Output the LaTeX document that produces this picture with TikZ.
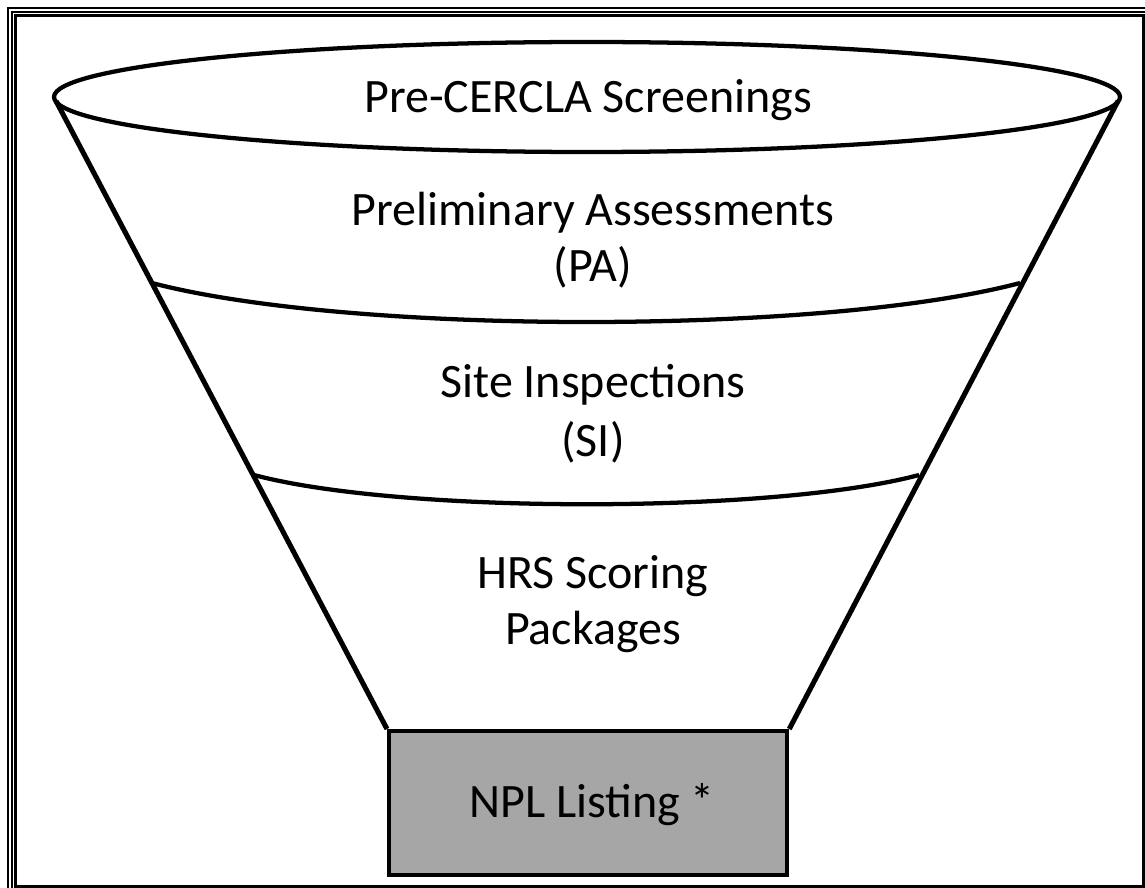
\documentclass[tikz,border=0pt]{standalone}
\usepackage{fontspec}
\setmainfont{Carlito}
\begin{document}
\begin{tikzpicture}[x=0.75pt,y=-0.75pt,
  frameline/.style={line width=1.6pt},
  funnelline/.style={line width=3.8pt, line join=round},
  sepline/.style={line width=3.2pt},
  lbl/.style={font=\fontsize{36}{43}\selectfont, anchor=base, inner sep=0pt},
  npl/.style={draw, line width=3.2pt, fill=npgray}]
\definecolor{npgray}{HTML}{A6A6A6}
\useasboundingbox (0,0) rectangle (1145,888);
% frame
\draw[frameline] (8.3,900) -- (8.3,8.3) -- (1160,8.3);
\draw[frameline] (12.3,900) -- (12.3,12.3) -- (1160,12.3);
\draw[frameline] (15.5,15.5) rectangle (1143.5,886.5);
% funnel
\coordinate (tl) at (56,101);
\coordinate (tr) at (1118,101);
\node[npl, minimum width=398*0.75pt, minimum height=144*0.75pt, anchor=north west, inner sep=0pt] (box) at (387,729) {};
\draw[funnelline] (tl) -- (box.north west);
\draw[funnelline] (tr) -- (box.north east);
\draw[sepline] (587,97) ellipse [x radius=533, y radius=55];
\coordinate (pal) at (152,283);
\coordinate (par) at (1020,283);
\draw[sepline] (pal) .. controls (350,335) and (824,335) .. (par);
\coordinate (sil) at (254,475);
\coordinate (sir) at (919,475);
\draw[sepline] (sil) .. controls (400,514) and (773,514) .. (sir);
% labels
\node[lbl] (pre) at (588,113) {Pre-CERCLA Screenings};
\node[lbl] (pa1) at (593,225) {Preliminary Assessments};
\node[lbl] (pa2) at (593,281) {(PA)};
\node[lbl] (si1) at (593,397) {Site Inspections};
\node[lbl] (si2) at (593,456) {(SI)};
\node[lbl] (hrs1) at (593,588) {HRS Scoring};
\node[lbl] (hrs2) at (593,644) {Packages};
\node[lbl] (npltext) at (592,817) {NPL Listing *};
\end{tikzpicture}
\end{document}
